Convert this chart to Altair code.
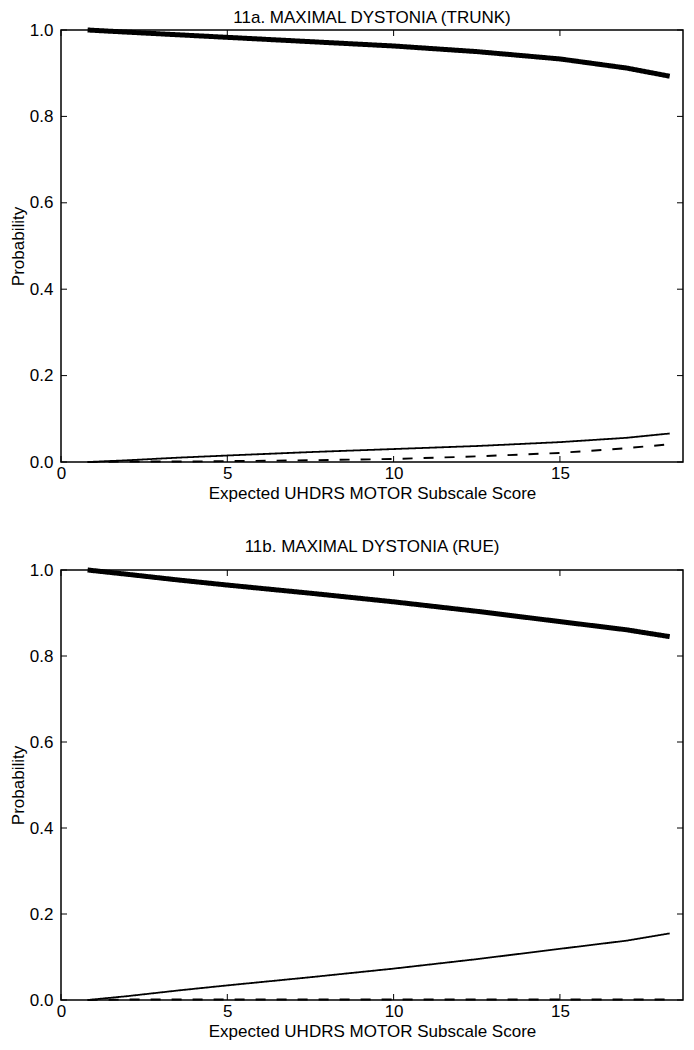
import altair as alt
import pandas as pd

# ---- data ----
x_score = [0.8, 2.0, 3.5, 5.0, 7.5, 10.0, 12.5, 15.0, 17.0, 18.3]

trunk_p0 = [1.000, 0.995, 0.989, 0.983, 0.973, 0.963, 0.950, 0.933, 0.912, 0.893]
trunk_p1 = [0.000, 0.004, 0.010, 0.015, 0.023, 0.030, 0.037, 0.046, 0.056, 0.066]
trunk_p2 = [0.000, 0.001, 0.001, 0.002, 0.004, 0.007, 0.013, 0.021, 0.032, 0.041]

rue_p0 = [1.000, 0.990, 0.977, 0.965, 0.946, 0.926, 0.904, 0.880, 0.861, 0.845]
rue_p1 = [0.000, 0.009, 0.022, 0.034, 0.053, 0.073, 0.095, 0.119, 0.138, 0.155]
rue_p2 = [0.000, 0.001, 0.001, 0.001, 0.001, 0.001, 0.001, 0.001, 0.001, 0.001]

x_ticks = [0, 5, 10, 15]
y_ticks = [0.0, 0.2, 0.4, 0.6, 0.8, 1.0]
x_domain = [0, 18.7]
panel_titles = ["11a. MAXIMAL DYSTONIA (TRUNK)", "11b. MAXIMAL DYSTONIA (RUE)"]
x_title = "Expected UHDRS MOTOR Subscale Score"
y_title = "Probability"

FONT = "Liberation Sans"
W = 622
TICK = 6

line_styles = [  # (strokeWidth, strokeDash)
    (5, [1, 0]),
    (1.8, [1, 0]),
    (1.9, [10, 11]),
]


def panel(series, title, h, title_offset):
    xs = alt.Scale(domain=x_domain, nice=False, zero=False)
    ys = alt.Scale(domain=[0, 1], nice=False)
    x_axis = alt.Axis(title=x_title, values=x_ticks, format="d",
                      labelFlush=False, labelOverlap=False)
    y_axis = alt.Axis(title=y_title, values=y_ticks, format=".1f",
                      labelFlush=False, labelOverlap=False)

    layers = []
    for vals, (sw, dash) in zip(series, line_styles):
        df = pd.DataFrame({"x": x_score, "p": vals})
        layers.append(
            alt.Chart(df).mark_line(color="black", strokeWidth=sw, strokeDash=dash,
                                    strokeCap="butt").encode(
                x=alt.X("x:Q", scale=xs, axis=x_axis),
                y=alt.Y("p:Q", scale=ys, axis=y_axis),
            )
        )

    xt = pd.DataFrame({"x": x_ticks})
    yt = pd.DataFrame({"p": y_ticks})
    layers += [
        alt.Chart(xt).mark_rule(color="black", strokeWidth=1).encode(
            x=alt.X("x:Q", scale=xs, axis=x_axis), y=alt.value(h), y2=alt.value(h - TICK)),
        alt.Chart(xt).mark_rule(color="black", strokeWidth=1).encode(
            x=alt.X("x:Q", scale=xs, axis=x_axis), y=alt.value(0), y2=alt.value(TICK)),
        alt.Chart(yt).mark_rule(color="black", strokeWidth=1).encode(
            y=alt.Y("p:Q", scale=ys, axis=y_axis), x=alt.value(0), x2=alt.value(TICK)),
        alt.Chart(yt).mark_rule(color="black", strokeWidth=1).encode(
            y=alt.Y("p:Q", scale=ys, axis=y_axis), x=alt.value(W - TICK), x2=alt.value(W)),
    ]

    return alt.layer(*layers).properties(
        width=W, height=h,
        title=alt.TitleParams(title, offset=title_offset, fontSize=17, font=FONT,
                              fontWeight="normal", color="black", anchor="middle",
                              frame="group"),
    )


c1 = panel([trunk_p0, trunk_p1, trunk_p2], panel_titles[0], 432, -7)
c2 = panel([rue_p0, rue_p1, rue_p2], panel_titles[1], 430, 4)

chart = alt.vconcat(c1, c2, spacing=35).properties(
    padding={"left": 0, "top": 0, "right": 0, "bottom": 0}
).configure_view(
    stroke="black", strokeWidth=1.5
).configure_axis(
    labelFont=FONT, labelFontSize=17, labelColor="black",
    titleFont=FONT, titleFontSize=17, titleColor="black", titleFontWeight="normal",
    domain=False, ticks=False, tickSize=0, grid=False,
).configure_axisX(
    labelPadding=3, titlePadding=4,
).configure_axisY(
    labelPadding=8, titlePadding=2,
)

chart.save("out.html", embed_options={"renderer": "svg", "actions": False})
